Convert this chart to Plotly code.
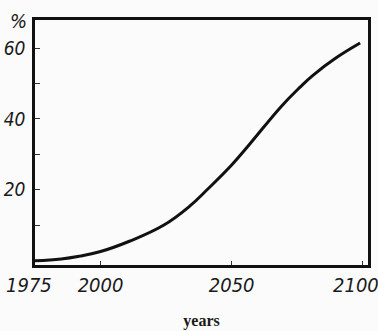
import plotly.graph_objects as go

# Share (%) over time
years = [1975, 1985, 1992, 2000, 2011, 2024, 2034, 2041, 2050, 2057, 2069, 2076, 2081, 2090, 2099]
share = [0.0, 0.5, 1.3, 2.6, 5.5, 10.0, 15.4, 20.3, 27.0, 33.0, 43.6, 48.9, 52.3, 57.3, 61.4]

x_ticks = [1975, 2000, 2050, 2100]
x_labels = ["1975", "2000", "2050", "2100"]
y_ticks = [10, 20, 30, 40, 50, 60]
y_labels = ["", "20", "", "40", "", "60"]

tick_font = dict(family="DejaVu Sans Condensed, Liberation Sans, sans-serif",
                 size=20, color="#1a1a1a", style="italic")
ytick_font = dict(tick_font, size=19)

fig = go.Figure()
fig.add_trace(go.Scatter(
    x=years, y=share, mode="lines",
    line=dict(color="#111111", width=3, shape="spline", smoothing=1.2),
    hoverinfo="skip",
))

# Edge year labels sit slightly inside the frame
edge_labels = [
    dict(text=x_labels[0], x=x_ticks[0], xshift=-6),
    dict(text=x_labels[-1], x=x_ticks[-1], xshift=-7),
]
annotations = [
    dict(text=a["text"], xref="x", yref="paper", x=a["x"], y=0,
         xanchor="center", yanchor="top", xshift=a["xshift"], yshift=-6,
         showarrow=False, font=tick_font)
    for a in edge_labels
]
annotations.append(dict(
    text="%", xref="paper", yref="paper", x=0, y=1,
    xanchor="right", yanchor="middle", xshift=-6, yshift=-1,
    showarrow=False, font=tick_font,
))

fig.update_layout(
    width=378, height=331,
    margin=dict(l=35, r=10, t=20, b=66),
    paper_bgcolor="#fbfbfb", plot_bgcolor="#fbfbfb",
    showlegend=False,
    xaxis=dict(
        range=[1975, 2102], tickvals=x_ticks, ticktext=["", x_labels[1], x_labels[2], ""],
        showgrid=False, zeroline=False, automargin=False,
        showline=True, mirror=True, linecolor="#111111", linewidth=2.5,
        ticks="inside", ticklen=4, tickwidth=1, tickcolor="#333333",
        tickfont=tick_font, ticklabelstandoff=0,
        title=dict(text="years", font=dict(family="Liberation Serif", size=16, color="#1a1a1a", weight="bold"), standoff=20),
    ),
    yaxis=dict(
        range=[-1.2, 67.9], tickvals=y_ticks, ticktext=y_labels,
        showgrid=False, zeroline=False, automargin=False,
        showline=True, mirror=True, linecolor="#111111", linewidth=2.5,
        ticks="inside", ticklen=5, tickwidth=1, tickcolor="#333333",
        tickfont=ytick_font, ticklabelstandoff=3,
    ),
    annotations=annotations,
)

fig.write_html("out.html")
